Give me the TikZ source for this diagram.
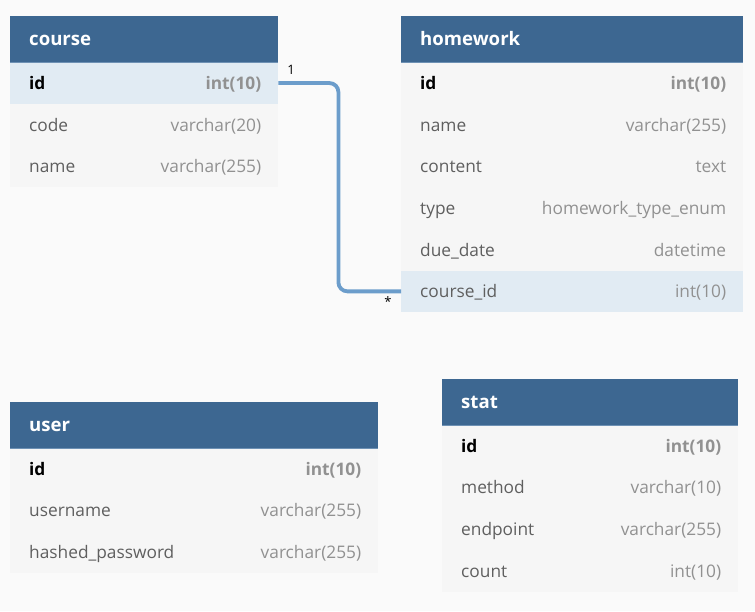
\documentclass[tikz,border=0pt]{standalone}
\usepackage{fontspec}
\setmainfont{Open Sans}
\definecolor{pagebg}{RGB}{250,250,250}
\definecolor{hdr}{RGB}{61,103,145}
\definecolor{hdrline}{RGB}{110,145,180}
\definecolor{rowbg}{RGB}{246,246,246}
\definecolor{hl}{RGB}{225,235,243}
\definecolor{fname}{RGB}{95,95,95}
\definecolor{ftype}{RGB}{145,145,145}
\definecolor{connc}{RGB}{108,157,203}
\tikzset{
  hdrbox/.style={fill=hdr, draw=none, anchor=north west, inner sep=0pt, minimum height=46pt},
  rowbox/.style={fill=rowbg, draw=none, anchor=north west, inner sep=0pt, minimum height=41.7pt},
  hlbox/.style={fill=hl, draw=none, anchor=north west, inner sep=0pt, minimum height=41.7pt},
  hdrtext/.style={anchor=base west, inner sep=0pt, text=white, font=\fontsize{18.6}{22}\selectfont\bfseries},
  fieldtext/.style={anchor=base west, inner sep=0pt, text=fname, font=\fontsize{17.3}{20}\selectfont},
  typetext/.style={anchor=base east, inner sep=0pt, text=ftype, font=\fontsize{17.3}{20}\selectfont},
  pkfield/.style={text=black, font=\fontsize{17.3}{20}\selectfont\bfseries},
  pktype/.style={font=\fontsize{17.3}{20}\selectfont\bfseries},
  cardlabel/.style={inner sep=0pt, text=black, font=\fontsize{13}{15}\selectfont},
  connector/.style={draw=connc, line width=3.8pt, rounded corners=9pt},
}
% #1 box style, #2 name, #3 x, #4 y, #5 width, #6 field, #7 type, #8 field style, #9 type style
\newcommand{\erdrow}[9]{%
  \node[#1, minimum width=#5] (#2) at (#3,#4) {};
  \node[fieldtext, #8] (#2-f) at ([xshift=19pt,yshift=-6.5pt]#2.west) {#6};
  \node[typetext, #9] (#2-t) at ([xshift=-17pt,yshift=-6.5pt]#2.east) {#7};
}
\newcommand{\erdhead}[5]{%
  \node[hdrbox, minimum width=#4] (#1) at (#2,#3) {};
  \node[hdrtext] (#1-title) at ([xshift=19pt,yshift=-6.5pt]#1.west) {#5};
  \draw[hdrline, line width=1pt] (#1.south west) -- (#1.south east);
}
\begin{document}
\begin{tikzpicture}[x=1pt, y=-1pt]
\fill[pagebg] (0,0) rectangle (755,611);
\useasboundingbox (0,0) rectangle (755,611);

% course
\erdrow{hlbox}{course-id}{10}{62}{268pt}{id}{int(10)}{pkfield}{pktype}
\erdrow{rowbox}{course-code}{10}{103.5}{268pt}{code}{varchar(20)}{}{}
\erdrow{rowbox}{course-name}{10}{145}{268pt}{name}{varchar(255)}{}{}
\erdhead{course}{10}{16}{268pt}{course}

% homework
\erdrow{rowbox}{hw-id}{401}{62}{342pt}{id}{int(10)}{pkfield}{pktype}
\erdrow{rowbox}{hw-name}{401}{103.7}{342pt}{name}{varchar(255)}{}{}
\erdrow{rowbox}{hw-content}{401}{145.3}{342pt}{content}{text}{}{}
\erdrow{rowbox}{hw-type}{401}{187}{342pt}{type}{homework\_type\_enum}{}{}
\erdrow{rowbox}{hw-due}{401}{228.7}{342pt}{due\_date}{datetime}{}{}
\erdrow{hlbox}{hw-course}{401}{270.3}{342pt}{course\_id}{int(10)}{}{}
\erdhead{homework}{401}{16}{342pt}{homework}

% user
\erdrow{rowbox}{user-id}{10}{447.5}{368pt}{id}{int(10)}{pkfield}{pktype}
\erdrow{rowbox}{user-username}{10}{489.2}{368pt}{username}{varchar(255)}{}{}
\erdrow{rowbox}{user-pw}{10}{530.9}{368pt}{hashed\_password}{varchar(255)}{}{}
\erdhead{user}{10}{402}{368pt}{user}

% stat
\erdrow{rowbox}{stat-id}{442}{424.5}{296pt}{id}{int(10)}{pkfield}{pktype}
\erdrow{rowbox}{stat-method}{442}{466.2}{296pt}{method}{varchar(10)}{}{}
\erdrow{rowbox}{stat-endpoint}{442}{507.9}{296pt}{endpoint}{varchar(255)}{}{}
\erdrow{rowbox}{stat-count}{442}{549.6}{296pt}{count}{int(10)}{}{}
\erdhead{stat}{442}{379}{296pt}{stat}

% relation
\draw[connector] (course-id.east) -- ([xshift=60pt]course-id.east) |- (hw-course.west);
\node[cardlabel] (card-one) at (291,70) {1};
\node[cardlabel] (card-many) at (388,302) {*};
\end{tikzpicture}
\end{document}
